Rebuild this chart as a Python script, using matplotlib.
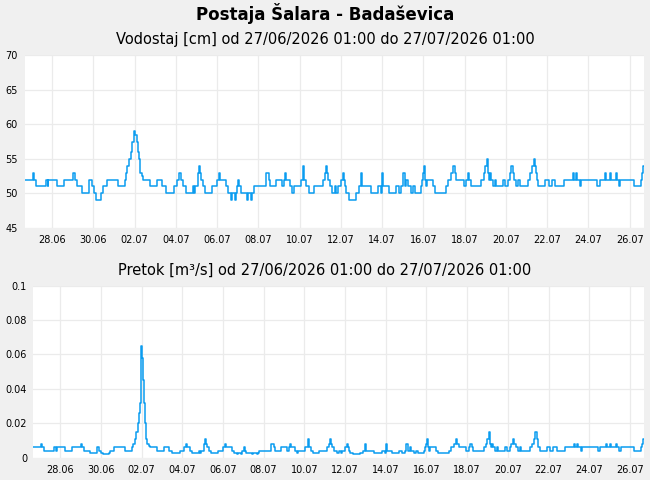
import numpy as np
import pandas as pd
import matplotlib
matplotlib.use("Agg")
import matplotlib.pyplot as plt
from matplotlib.ticker import FuncFormatter

# data
start = pd.Timestamp("2026-06-27 01:00")
end = pd.Timestamp("2026-07-27 01:00")

# hours after start where the water level changes, and the new level [cm]
hours = [0, 9.7, 10.5, 12.8, 24.8, 26.8, 27.9, 38, 46.1, 56.6, 58.2, 60.5, 66.7, 75.2,
         78.3, 80.6, 82.6, 89.2, 91.1, 95.8, 108.6, 117.1, 118.2, 119.8, 121, 123.3,
         124.5, 125.6, 126.8, 127.6, 129.1, 130.3, 131, 131.6, 132.3, 132.8, 133.8,
         134.9, 136.5, 138, 145.8, 154.1, 159.9, 164.5, 173.8, 177.7, 180, 181.6,
         184.7, 187.8, 195.6, 196.7, 198.7, 201.4, 202.1, 203.3, 204.5, 205.6, 207.6,
         210.3, 218, 223.5, 226.2, 227.3, 234.3, 236.6, 240.5, 241.7, 245.2, 246,
         246.7, 248.3, 249.8, 251.4, 258.7, 259.9, 263.8, 264.9, 266.9, 281.2, 283.9,
         285.5, 292.1, 299.9, 301.4, 302.6, 303.7, 308.4, 311.1, 313, 321.2, 323.9,
         325.1, 327.8, 330.5, 337.1, 347.2, 349.5, 350.6, 351.8, 353, 354.9, 358,
         360.7, 362.7, 365, 367.7, 370, 371.2, 372.4, 374.3, 377.4, 385.9, 389, 391.4,
         392.5, 402.6, 411.1, 415, 416.2, 417.3, 423.9, 431.7, 435.5, 438.3, 440.2,
         442.2, 444.1, 446, 449.1, 451.9, 453.8, 460.8, 462.3, 463.1, 464.3, 465.4,
         466.6, 468.5, 475.1, 477.8, 490.6, 492.6, 496.4, 498.4, 500.3, 502.3, 511.2,
         513.9, 515.8, 517.4, 518.9, 531.3, 534.4, 536, 537.9, 539.1, 540.2, 541.8,
         543, 544.5, 546.8, 548.8, 556.5, 558.5, 562.3, 564.3, 566.2, 567.8, 569.3,
         572, 574, 575.9, 586, 588.3, 590.3, 592.2, 594.1, 595.3, 596.1, 597.6, 605.8,
         610, 613.5, 617.4, 627.1, 638, 639.1, 641.8, 643, 645.7, 647.6, 665.9, 669,
         675.2, 676.7, 681, 682.2, 687.6, 689.1, 691.1, 693, 708.5, 717.1, 718.6,
         719.8, 720]
level = [52, 53, 52, 51, 52, 51, 52, 51, 52, 53, 52, 51, 50, 52,
         51, 50, 49, 50, 51, 52, 51, 52, 53, 54, 55, 56,
         56.5, 57.5, 58.5, 59, 58.5, 58, 57.5, 56.5, 56, 55, 54,
         53, 52.5, 52, 51, 52, 51, 50, 51, 52, 53, 52,
         51, 50, 51, 50, 51, 52, 53, 54, 53, 52, 51,
         50, 51, 52, 53, 52, 51, 50, 49, 50, 49, 50,
         51, 52, 51, 50, 49, 50, 49, 50, 51, 53, 52,
         51, 52, 51, 52, 53, 52, 51, 50, 51, 52, 54,
         52, 51, 50, 51, 52, 53, 54, 53, 52, 51, 50,
         51, 50, 51, 52, 53, 52, 51, 50, 49, 50, 51, 53,
         51, 50, 51, 50, 53, 51, 50, 51, 50, 51, 53,
         51, 52, 51, 50, 51, 50, 51, 52, 53, 54, 52,
         51, 52, 51, 50, 51, 52, 53, 54, 53, 52, 51,
         52, 53, 52, 51, 52, 53, 54, 55, 53, 52, 53,
         52, 51, 52, 51, 52, 51, 52, 53, 54, 53, 52,
         51, 52, 51, 52, 53, 54, 55, 54, 53, 52, 51, 52,
         51, 52, 51, 52, 53, 52, 53, 52, 51, 52, 51, 52,
         53, 52, 53, 52, 53, 52, 51, 52, 51, 52, 53,
         54, 54]

# discharge [m3/s] for each level step
rating = {49: 0.002, 50: 0.003, 51: 0.004, 52: 0.006, 52.5: 0.007, 53: 0.008,
          54: 0.011, 55: 0.015, 56: 0.020, 56.5: 0.026, 57.5: 0.032, 58: 0.045,
          58.5: 0.058, 59: 0.065}
flow = [rating[v] for v in level]

tick_labels = ["28.06", "30.06", "02.07", "04.07", "06.07", "08.07", "10.07", "12.07",
               "14.07", "16.07", "18.07", "20.07", "22.07", "24.07", "26.07"]

times = start + pd.to_timedelta(hours, unit="h")
tick_pos = pd.Timestamp("2026-06-28 09:00") + pd.to_timedelta(np.arange(len(tick_labels)) * 2, unit="D")

line_color = "#0a9cf0"
grid_color = "#ebebeb"
bg = "#f0f0f0"

fig = plt.figure(figsize=(6.5, 4.8), dpi=100)
fig.patch.set_facecolor(bg)

fig.text(0.5, 0.972, "Postaja Šalara - Badaševica", ha="center", va="center",
         fontsize=12, fontweight="bold")

ax1 = fig.add_axes([0.0377, 0.525, 0.9523, 0.3604])
ax2 = fig.add_axes([0.0508, 0.0465, 0.9392, 0.3583])

panels = [
    (ax1, level, (45, 70), [45, 50, 55, 60, 65, 70],
     "Vodostaj [cm] od 27/06/2026 01:00 do 27/07/2026 01:00", 0.917, 5),
    (ax2, flow, (0, 0.1), [0, 0.02, 0.04, 0.06, 0.08, 0.1],
     "Pretok [m³/s] od 27/06/2026 01:00 do 27/07/2026 01:00", 0.437, 4.3),
]

for ax, vals, ylim, yticks, title, ty, ypad in panels:
    ax.set_facecolor("white")
    ax.plot(times, vals, drawstyle="steps-post", color=line_color, lw=1.1)
    ax.set_xlim(start, end)
    ax.set_ylim(*ylim)
    ax.set_yticks(yticks)
    ax.yaxis.set_major_formatter(FuncFormatter(lambda v, p: "{:g}".format(round(v, 3))))
    ax.set_xticks(tick_pos)
    ax.set_xticklabels(tick_labels)
    ax.tick_params(axis="both", length=0, labelsize=7, colors="black")
    ax.tick_params(axis="x", pad=5)
    ax.tick_params(axis="y", pad=ypad)
    ax.grid(True, color=grid_color, lw=0.9)
    ax.set_axisbelow(True)
    for s in ax.spines.values():
        s.set_visible(False)
    fig.text(0.5, ty, title, ha="center", va="center", fontsize=10.5)

plt.savefig("out.png", dpi=100, facecolor=bg)
